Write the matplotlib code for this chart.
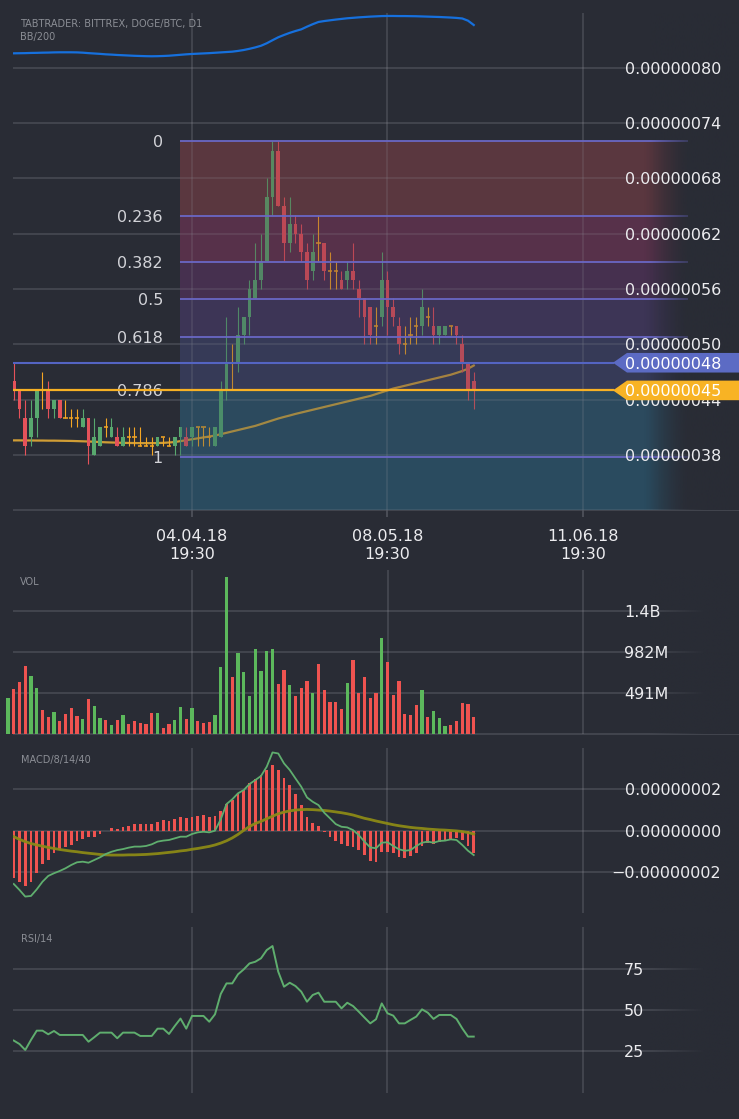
import numpy as np
import matplotlib
matplotlib.use("Agg")
import matplotlib.pyplot as plt
from matplotlib.patches import Polygon
from matplotlib.colors import to_rgba

# ---------------- data (prices in satoshi = 1e-8 BTC) ----------------
days = list(range(-32, 50))          # day 0 = 04.04.18
opens = [47, 46, 45, 42, 40, 42, 45, 45, 43, 44,
         42, 42, 42, 41, 42, 38, 39, 41, 40, 40,
         39, 40, 40, 39, 39, 39, 39, 40, 39, 39,
         40, 40, 40, 41, 41, 40, 39, 40, 45, 48,
         48, 51, 53, 55, 57, 59, 66, 71, 65, 61,
         63, 62, 60, 58, 61, 61, 58, 58, 57, 57,
         58, 56, 55, 54, 52, 53, 57, 54, 52, 50,
         51, 52, 52, 53, 52, 51, 51, 52, 52, 50,
         48, 46]
highs = [48, 48, 45, 44, 44, 45, 47, 46, 44, 44,
         44, 43, 43, 43, 42, 42, 41, 42, 42, 41,
         41, 41, 41, 41, 40, 40, 40, 40, 40, 40,
         41, 41, 41, 41, 41, 41, 41, 46, 53, 50,
         54, 53, 57, 61, 62, 68, 72, 72, 66, 66,
         64, 63, 61, 62, 64, 61, 60, 59, 58, 59,
         61, 57, 55, 54, 54, 60, 58, 55, 53, 52,
         53, 53, 56, 54, 54, 52, 52, 52, 52, 51,
         48, 47]
lows = [45, 44, 42, 38, 39, 40, 43, 42, 42, 42,
        42, 41, 41, 41, 37, 38, 39, 40, 40, 39,
        39, 39, 39, 39, 39, 38, 39, 39, 39, 38,
        38, 39, 39, 39, 39, 39, 39, 40, 44, 45,
        47, 50, 51, 55, 56, 59, 64, 65, 59, 60,
        61, 59, 56, 57, 59, 57, 56, 56, 56, 56,
        56, 53, 50, 50, 50, 52, 51, 52, 49, 49,
        50, 50, 51, 52, 50, 50, 51, 51, 50, 47,
        44, 43]
closes = [46, 45, 43, 39, 42, 45, 45, 43, 44, 42,
          42, 42, 42, 42, 39, 40, 41, 41, 41, 39,
          40, 40, 40, 39, 39, 39, 40, 40, 39, 40,
          41, 39, 41, 41, 41, 40, 41, 45, 48, 48,
          51, 53, 56, 57, 59, 66, 71, 65, 61, 63,
          62, 60, 57, 60, 61, 58, 58, 58, 56, 58,
          57, 55, 53, 51, 52, 57, 54, 53, 50, 50,
          51, 52, 54, 53, 51, 52, 52, 52, 51, 48,
          45, 45]
volumes_m = [432, 539, 618, 808, 690, 547, 285, 206, 262, 155,
             238, 309, 214, 178, 416, 333, 190, 166, 111, 166,
             226, 119, 155, 131, 119, 250, 250, 71, 119, 166,
             321, 178, 309, 155, 131, 143, 226, 797, 1871, 678,
             963, 737, 452, 1011, 749, 987, 1011, 594, 761, 583,
             452, 547, 630, 487, 832, 523, 380, 380, 297, 606,
             880, 487, 678, 428, 487, 1141, 856, 464, 630, 238,
             226, 345, 523, 202, 273, 190, 95, 107, 155, 369,
             357, 202]
volume_up = [1, 0, 0, 0, 1, 1, 0, 0, 1, 0,
             0, 0, 0, 1, 0, 1, 1, 0, 1, 0,
             1, 0, 0, 0, 0, 0, 1, 0, 0, 1,
             1, 0, 1, 0, 0, 0, 1, 1, 1, 0,
             1, 1, 1, 1, 1, 1, 1, 0, 0, 1,
             0, 0, 0, 1, 0, 0, 0, 0, 0, 1,
             0, 0, 0, 0, 0, 1, 0, 0, 0, 0,
             0, 0, 1, 0, 1, 1, 1, 0, 0, 0,
             0, 0]

ind_days = list(range(-31, 50))
bb_upper = [81.56, 81.57, 81.58, 81.60, 81.61, 81.63, 81.64, 81.66, 81.67, 81.67,
            81.67, 81.66, 81.63, 81.58, 81.54, 81.50, 81.45, 81.42, 81.38, 81.35,
            81.32, 81.29, 81.27, 81.25, 81.24, 81.25, 81.27, 81.30, 81.35, 81.40,
            81.45, 81.49, 81.52, 81.55, 81.58, 81.62, 81.66, 81.70, 81.74, 81.82,
            81.92, 82.05, 82.20, 82.38, 82.65, 82.98, 83.30, 83.55, 83.78, 83.98,
            84.16, 84.45, 84.72, 84.96, 85.06, 85.14, 85.22, 85.29, 85.36, 85.41,
            85.46, 85.50, 85.54, 85.57, 85.60, 85.61, 85.61, 85.60, 85.60, 85.59,
            85.58, 85.56, 85.54, 85.52, 85.50, 85.47, 85.44, 85.40, 85.34, 85.10,
            84.63]
bb_middle = [39.58, 39.58, 39.57, 39.57, 39.56, 39.56, 39.55, 39.55, 39.54, 39.53,
             39.52, 39.50, 39.48, 39.46, 39.43, 39.40, 39.37, 39.35, 39.33, 39.31,
             39.30, 39.29, 39.28, 39.28, 39.28, 39.29, 39.31, 39.35, 39.40, 39.50,
             39.60, 39.70, 39.80, 39.90, 40.00, 40.10, 40.25, 40.40, 40.55, 40.70,
             40.85, 41.00, 41.15, 41.35, 41.55, 41.75, 41.95, 42.12, 42.28, 42.45,
             42.60, 42.75, 42.90, 43.05, 43.20, 43.35, 43.50, 43.65, 43.80, 43.95,
             44.10, 44.25, 44.40, 44.60, 44.80, 45.00, 45.20, 45.35, 45.50, 45.65,
             45.80, 45.95, 46.10, 46.25, 46.40, 46.55, 46.70, 46.90, 47.10, 47.35,
             47.70]
macd_hist = [-2.31, -2.47, -2.66, -2.47, -2.03, -1.61, -1.42, -1.10, -0.94, -0.81,
             -0.68, -0.52, -0.39, -0.32, -0.29, -0.16, 0.0, 0.13, 0.06, 0.16,
             0.23, 0.32, 0.32, 0.32, 0.32, 0.44, 0.52, 0.47, 0.56, 0.65,
             0.60, 0.65, 0.69, 0.76, 0.66, 0.71, 0.97, 1.29, 1.48, 1.77,
             1.97, 2.29, 2.48, 2.69, 2.94, 3.18, 2.94, 2.56, 2.21, 1.77,
             1.24, 0.65, 0.39, 0.23, -0.05, -0.29, -0.48, -0.65, -0.74, -0.77,
             -0.94, -1.18, -1.45, -1.50, -1.02, -1.02, -1.10, -1.26, -1.34, -1.23,
             -1.10, -0.74, -0.58, -0.65, -0.53, -0.48, -0.45, -0.37, -0.45, -0.74,
             -1.06]
macd_line = [-2.58, -2.87, -3.19, -3.16, -2.84, -2.47, -2.19, -2.06, -1.95, -1.82,
             -1.66, -1.53, -1.50, -1.55, -1.42, -1.29, -1.13, -1.02, -0.94, -0.89,
             -0.82, -0.77, -0.77, -0.74, -0.66, -0.53, -0.48, -0.45, -0.37, -0.29,
             -0.29, -0.16, -0.08, -0.05, -0.08, 0.0, 0.55, 1.29, 1.52, 1.81,
             1.97, 2.26, 2.45, 2.65, 3.10, 3.79, 3.74, 3.26, 2.94, 2.53,
             2.13, 1.61, 1.40, 1.24, 0.87, 0.60, 0.32, 0.19, 0.16, 0.03,
             -0.21, -0.53, -0.81, -0.85, -0.58, -0.56, -0.74, -0.90, -0.97, -0.94,
             -0.74, -0.58, -0.53, -0.58, -0.50, -0.48, -0.42, -0.45, -0.69, -0.97,
             -1.18]
macd_signal = [-0.29, -0.42, -0.53, -0.62, -0.69, -0.75, -0.81, -0.86, -0.91, -0.95,
               -0.99, -1.02, -1.06, -1.09, -1.12, -1.15, -1.17, -1.18, -1.18, -1.18,
               -1.17, -1.17, -1.16, -1.15, -1.13, -1.11, -1.08, -1.05, -1.02, -0.98,
               -0.95, -0.90, -0.86, -0.81, -0.76, -0.69, -0.60, -0.49, -0.35, -0.18,
               0.02, 0.20, 0.35, 0.45, 0.58, 0.70, 0.82, 0.90, 0.96, 1.00,
               1.02, 1.03, 1.02, 1.00, 0.98, 0.95, 0.91, 0.87, 0.82, 0.76,
               0.68, 0.60, 0.54, 0.47, 0.41, 0.35, 0.29, 0.24, 0.20, 0.16,
               0.13, 0.11, 0.08, 0.06, 0.04, 0.03, 0.01, -0.01, -0.04, -0.09,
               -0.16]
rsi = [31.5, 29.4, 25.8, 31.9, 37.5, 37.5, 35.3, 37.3, 34.9, 34.9,
       34.9, 34.9, 34.9, 30.8, 33.5, 36.3, 36.3, 36.3, 32.9, 36.3,
       36.3, 36.3, 34.3, 34.3, 34.3, 38.7, 38.7, 35.5, 40.3, 44.8,
       38.7, 46.4, 46.4, 46.4, 42.9, 47.4, 59.7, 66.1, 66.1, 71.6,
       74.6, 78.2, 79.2, 81.3, 86.3, 88.7, 73.2, 64.1, 66.5, 64.5,
       61.1, 55.0, 59.1, 60.5, 55.0, 55.0, 55.0, 51.0, 54.4, 52.4,
       49.0, 45.4, 41.9, 44.4, 54.0, 48.0, 46.6, 41.9, 41.9, 44.0,
       46.0, 50.4, 48.4, 44.6, 47.0, 47.0, 47.0, 44.6, 38.9, 33.9,
       33.9]

date_ticks = [0, 34, 68]
date_labels = ["04.04.18\n19:30", "08.05.18\n19:30", "11.06.18\n19:30"]
price_ticks = [38, 44, 50, 56, 62, 68, 74, 80]
fib_high = 72.0
fib_low = 37.75
fib_levels = [0, 0.236, 0.382, 0.5, 0.618, 0.786, 1]
fib_names = ["0", "0.236", "0.382", "0.5", "0.618", "0.786", "1"]
user_line_price = 48
vol_ticks = [491, 982, 1473]
vol_names = ["491M", "982M", "1.4B"]
macd_ticks = [-2, 0, 2]
rsi_ticks = [25, 50, 75]

# ---------------- style / layout ----------------
W, H, DPI = 739, 1119, 100
BG = "#292c35"
GRID = (0.58, 0.59, 0.62, 0.30)
TXT = "#ececef"
FS = 11.5
X0_PX, PX_DAY = 192.0, 5.75


def px2day(px):
    return (px - X0_PX) / PX_DAY


fig = plt.figure(figsize=(W / DPI, H / DPI), dpi=DPI)
fig.patch.set_facecolor(BG)


def panel(left, top, bottom, ylim):
    ax = fig.add_axes([left / W, 1 - bottom / H, (W - left) / W, (bottom - top) / H])
    ax.set_facecolor("none")
    ax.set_autoscale_on(False)
    ax.set_xlim(px2day(left), px2day(W))
    ax.set_ylim(*ylim)
    for s in ax.spines.values():
        s.set_visible(False)
    ax.set_xticks([])
    ax.set_yticks([])
    return ax


def hgrid(ax, y, clip=True):
    ax.plot([px2day(13), px2day(W)], [y, y], color=GRID, lw=1.1, zorder=1,
            solid_capstyle="butt", clip_on=clip)


def vgrid(ax):
    for d in date_ticks:
        ax.axvline(d, color=GRID, lw=1.1, zorder=1)


def fade(ax, left, start=650, span=55):
    n = 200
    pxs = np.linspace(start, W, n)
    img = np.zeros((1, n, 4))
    img[..., :3] = to_rgba(BG)[:3]
    img[0, :, 3] = np.clip((pxs - start) / span, 0, 1)
    ax.imshow(img, extent=((start - left) / (W - left), 1, 0, 1), transform=ax.transAxes,
              aspect="auto", interpolation="bilinear", zorder=5)


# ---------------- main price panel ----------------
P80_PX, PX_SAT = 67.7, 9.22


def price_at(px):
    return 80 - (px - P80_PX) / PX_SAT


axm = panel(13, 13, 510, (price_at(510), price_at(13)))
ybot = axm.get_ylim()[0]

# fib zone fill
band_cols = ["#5a373f", "#57314a", "#46304f", "#3d3556", "#363a57", "#2c4a5e", "#2a4b5f"]
nrow, ncol = 1400, 300
ys = np.linspace(fib_high, ybot, nrow)
ratio = (fib_high - ys) / (fib_high - fib_low)
idx = np.searchsorted(np.array(fib_levels[1:]), ratio, side="right")
fx0, fx1 = px2day(180), px2day(690)
xpx = np.linspace(180, 690, ncol)
cols = np.array([to_rgba(c) for c in band_cols])
img = np.zeros((nrow, ncol, 4))
img[:, :, :3] = cols[idx][:, None, :3]
img[:, :, 3] = np.clip((690 - xpx) / 45.0, 0, 1)[None, :]
axm.imshow(img, extent=(fx0, fx1, ybot, fib_high), origin="upper", aspect="auto",
           interpolation="nearest", zorder=0.5)
img2 = img.copy()
img2[..., 3] *= 0.28
axm.imshow(img2, extent=(fx0, fx1, ybot, fib_high), origin="upper", aspect="auto",
           interpolation="nearest", zorder=3)

for p in price_ticks:
    hgrid(axm, p)
hgrid(axm, ybot, clip=False)
vgrid(axm)

# candles
GREEN_C, RED_C, DOJI_C = "#58a86e", "#e5525a", "#f5a623"
for d, o, h, l, c in zip(days, opens, highs, lows, closes):
    col = GREEN_C if c > o else (RED_C if c < o else DOJI_C)
    axm.vlines(d, l, h, color=col, lw=0.8, zorder=2.5)
    if c != o:
        axm.bar(d, abs(c - o), bottom=min(o, c), width=0.64, color=col, lw=0, zorder=2.6)
    else:
        axm.hlines(o, d - 0.36, d + 0.36, color=col, lw=1.1, zorder=2.6)

axm.plot(ind_days, bb_middle, color="#e3aa35", lw=1.6, alpha=0.9, zorder=2.2)
axm.plot(ind_days, bb_upper, color="#1670dd", lw=1.6, zorder=4)

# fib lines + labels
for lv, name in zip(fib_levels, fib_names):
    pr = fib_high - lv * (fib_high - fib_low)
    axm.hlines(pr, fx0, px2day(688), color="#6a67c4", lw=1.3, zorder=3.5)
    axm.text(px2day(163), pr, name, ha="right", va="center_baseline", fontsize=FS,
             color="#d2d3d8", zorder=3.8)

last_price = closes[-1]
axm.hlines(user_line_price, px2day(13), px2day(614), color="#5464c2", lw=1.5, zorder=4)
axm.hlines(last_price, px2day(13), px2day(614), color="#f7b125", lw=1.6, zorder=4)

for p in price_ticks:
    axm.text(px2day(625), p, f"{p * 1e-8:.8f}", ha="left", va="center_baseline",
             fontsize=FS, color=TXT, zorder=6)


def tag(ax, price, color):
    hh = 9.8 / PX_SAT
    xt, xs_, xe = px2day(613), px2day(627), px2day(W + 5)
    ax.add_patch(Polygon([[xt, price], [xs_, price + hh], [xe, price + hh],
                          [xe, price - hh], [xs_, price - hh]], closed=True,
                         fc=color, ec="none", zorder=8, clip_on=False))
    ax.text(px2day(625), price, f"{price * 1e-8:.8f}", ha="left", va="center_baseline",
            fontsize=FS, color="white", zorder=9)


tag(axm, user_line_price, "#5c6bc4")
tag(axm, last_price, "#f8b324")
fade(axm, 13)

axm.set_xticks(date_ticks)
axm.set_xticklabels(date_labels)
axm.tick_params(axis="x", length=5, width=1.1, color="#555861", labelcolor=TXT,
                labelsize=FS, pad=9)

fig.text(20 / W, 1 - 24 / H, "TABTRADER: BITTREX, DOGE/BTC, D1", color="#8b8e95",
         fontsize=7, va="center", ha="left")
fig.text(20 / W, 1 - 37 / H, "BB/200", color="#8b8e95", fontsize=7, va="center", ha="left")

# ---------------- volume panel ----------------
VPX = 41.1 / 491
axv = panel(0, 570, 734, (0, (734 - 570) / VPX))
for v in vol_ticks:
    hgrid(axv, v)
hgrid(axv, 0, clip=False)
vgrid(axv)
axv.bar(days, volumes_m, width=0.58, lw=0, zorder=2,
        color=["#5cb85c" if u else "#ef5350" for u in volume_up])
for v, name in zip(vol_ticks, vol_names):
    axv.text(px2day(624), v, name, ha="left", va="center_baseline", fontsize=FS,
             color=TXT, zorder=6)
fade(axv, 0)
fig.text(20 / W, 1 - 582 / H, "VOL", color="#8b8e95", fontsize=7, va="center", ha="left")

# ---------------- MACD panel ----------------
MPX = 20.65
axd = panel(13, 748, 913, (-(913 - 830.7) / MPX, (830.7 - 748) / MPX))
for t in macd_ticks:
    hgrid(axd, t)
vgrid(axd)
axd.bar(ind_days, macd_hist, width=0.52, color="#ef5350", lw=0, zorder=2)
axd.plot(ind_days, macd_signal, color="#8c8a16", lw=2.0, alpha=0.95, zorder=3)
axd.plot(ind_days, macd_line, color="#5fae6e", lw=1.3, zorder=3.2)
for t in macd_ticks:
    axd.text(px2day(721), t, f"{t * 1e-8:.8f}".replace("-", "\u2212"), ha="right",
             va="center_baseline", fontsize=FS, color=TXT, zorder=6)
fade(axd, 13)
fig.text(21 / W, 1 - 760 / H, "MACD/8/14/40", color="#8b8e95", fontsize=7, va="center",
         ha="left")

# ---------------- RSI panel ----------------
RPX = 1.652
axr = panel(13, 927, 1093, (50 - (1093 - 1010) / RPX, 50 + (1010 - 927) / RPX))
for t in rsi_ticks:
    hgrid(axr, t)
vgrid(axr)
axr.plot(ind_days, rsi, color="#5fae6e", lw=1.4, zorder=3)
for t in rsi_ticks:
    axr.text(px2day(624), t, str(t), ha="left", va="center_baseline", fontsize=FS,
             color=TXT, zorder=6)
fade(axr, 13)
fig.text(21 / W, 1 - 939 / H, "RSI/14", color="#8b8e95", fontsize=7, va="center", ha="left")

fig.savefig("out.png", dpi=DPI, facecolor=BG)
